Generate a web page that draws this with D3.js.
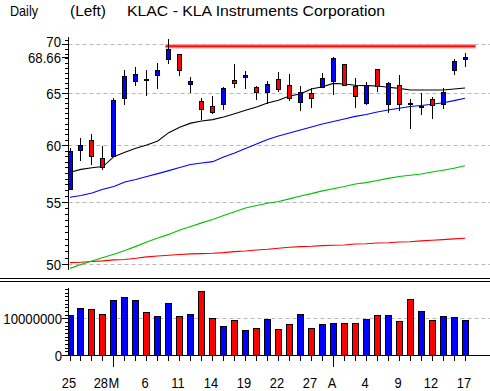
<!DOCTYPE html>
<html><head><meta charset="utf-8">
<script src="https://cdn.jsdelivr.net/npm/d3@7/dist/d3.min.js"></script>
<style>
body{margin:0;background:#fff}
svg{display:block}
text{font-family:"Liberation Sans",Arial,sans-serif;fill:#000}
</style></head><body>
<svg id="c" width="490" height="391"></svg>
<script>
// ---- data ----
const dates = ["02/25","02/26","02/27","02/28","03/01","03/04","03/05","03/06","03/07","03/08",
  "03/11","03/12","03/13","03/14","03/15","03/18","03/19","03/20","03/21","03/22",
  "03/25","03/26","03/27","03/28","04/01","04/02","04/03","04/04","04/05","04/08",
  "04/09","04/10","04/11","04/12","04/15","04/16","04/17"];
const openP  = [56.13,59.58,60.45,58.80,58.98,64.45,66.15,66.40,66.76,68.41,68.94,65.90,64.16,63.67,63.87,66.27,66.56,65.55,65.04,66.38,65.75,64.06,64.95,65.55,66.15,67.90,65.68,64.02,67.41,63.87,65.75,64.02,63.68,64.35,63.87,67.27,68.41];
const highP  = [59.71,60.63,61.03,59.92,64.48,67.33,67.58,67.33,68.05,70.57,68.94,66.59,64.48,64.68,65.60,67.92,67.20,65.71,66.15,67.09,66.87,65.71,65.44,67.00,68.62,67.95,66.49,66.08,67.45,66.08,66.79,64.39,64.95,64.55,65.44,68.45,69.08];
const lowP   = [56.13,58.59,58.21,57.78,58.89,63.83,65.71,64.71,65.41,67.90,66.72,64.95,62.32,62.95,63.34,65.51,65.41,64.26,63.87,65.11,64.22,63.24,63.48,65.44,64.78,65.68,63.53,63.83,65.11,63.05,63.24,61.50,62.83,62.42,63.38,66.76,67.58];
const closeP = [59.44,59.98,58.98,58.03,64.26,66.66,66.87,66.30,67.30,69.47,67.27,66.18,63.38,63.15,65.44,65.94,66.76,65.04,65.90,65.35,64.45,65.11,64.45,66.45,68.55,65.75,64.65,65.78,65.68,65.94,63.87,63.96,63.72,63.76,65.11,68.20,68.66];
const volume = [10.9,12.7,12.45,11.1,14.9,15.7,14.9,11.6,10.5,14.1,10.5,11.1,17.4,10.0,7.8,9.45,6.7,7.3,9.7,7.0,8.4,11.1,7.3,8.4,8.65,8.65,8.65,9.7,10.8,10.8,9.2,15.2,11.9,9.45,10.5,10.3,9.45].map(v=>v*1e6);
const maBlack = [57.56,57.81,57.96,58.06,58.95,59.35,59.71,60.01,60.38,61.15,61.66,62.05,62.25,62.38,62.64,62.95,63.28,63.60,63.99,64.26,64.68,64.88,65.37,65.60,65.94,65.87,65.75,65.71,65.68,65.55,65.44,65.27,65.27,65.27,65.27,65.37,65.48];
const maBlue  = [55.40,55.55,55.76,56.08,56.32,56.71,56.93,57.18,57.44,57.70,57.98,58.25,58.38,58.50,58.92,59.28,59.69,60.10,60.51,60.84,61.12,61.40,61.68,61.97,62.21,62.45,62.69,62.88,63.12,63.31,63.48,63.65,63.75,63.87,64.02,64.22,64.45];
const maGreen = [49.69,49.99,50.26,50.53,50.78,51.07,51.39,51.74,52.06,52.34,52.70,52.98,53.27,53.55,53.88,54.19,54.50,54.71,54.89,55.04,55.26,55.51,55.71,55.94,56.13,56.32,56.54,56.65,56.84,57.02,57.18,57.30,57.41,57.58,57.73,57.91,58.14];
const maRed   = [50.13,50.16,50.22,50.26,50.34,50.37,50.46,50.57,50.64,50.70,50.76,50.80,50.82,50.85,50.90,50.98,51.03,51.11,51.16,51.24,51.32,51.37,51.40,51.45,51.48,51.50,51.58,51.60,51.66,51.68,51.74,51.76,51.82,51.87,51.92,51.98,52.03];
const resistanceLevel = 69.8;
const resistanceStart = 9;
const priceTicks = [50,55,60,65,70];
const volTicks = [0,10000000];
const xLabelIdx = [0,3,4,7,10,13,16,19,22,24,27,30,33,36];
const xLabels   = ["25","28","M","6","11","14","19","22","27","A","4","9","12","17"];
const monthStartIdx = [4,24];
const titleParts = ["Daily","(Left)","KLAC - KLA Instruments Corporation"];

// ---- layout ----
const svg = d3.select("#c");
const n = closeP.length;
const axisX = 68.5, rightX = 490;
const x = d3.scaleLinear().domain([0,n-1]).range([70,465]);
const cx = i => Math.floor(x(i)) + 0.5;
const y = d3.scaleLog().domain([50,70]).range([264.3,44.3]);
const py = v => Math.round(y(v));
const yv = d3.scaleLinear().domain([0,10000000]).range([355,318.3]);

// condensed text helper
function ctext(g, tx, ty, str, anchor, sx, fs){
  return g.append("text").attr("transform",`translate(${tx},${ty}) scale(${sx},1)`)
    .attr("text-anchor",anchor).attr("font-size",fs||15).text(str);
}

svg.append("rect").attr("width",490).attr("height",391).attr("fill","#fff");

// title
const tx = [10,70,127], tw=[28,36,258];
titleParts.forEach((t,k)=>svg.append("text").attr("x",tx[k]).attr("y",15.5)
  .attr("font-size",15).attr("textLength",tw[k]).attr("lengthAdjust","spacingAndGlyphs").text(t));

// clip
svg.append("clipPath").attr("id","mainclip").append("rect")
  .attr("x",axisX+0.5).attr("y",34).attr("width",rightX-axisX).attr("height",235.5);
svg.append("clipPath").attr("id","volclip").append("rect")
  .attr("x",axisX+0.5).attr("y",284).attr("width",rightX-axisX).attr("height",71);

// grid lines main
const gMain = svg.append("g");
gMain.selectAll("line.grid").data(priceTicks).join("line")
  .attr("x1",axisX).attr("x2",rightX).attr("y1",d=>py(d)+0.5).attr("y2",d=>py(d)+0.5)
  .attr("stroke","#b8b8b8").attr("stroke-dasharray","4,3");

// MA lines
const plot = svg.append("g").attr("clip-path","url(#mainclip)");
const line = d3.line().x((d,i)=>x(i)).y(d=>y(d));
[[maRed,"#ff0000"],[maGreen,"#00c000"],[maBlue,"#0000ff"],[maBlack,"#000000"]].forEach(([arr,c])=>{
  plot.append("path").datum(arr).attr("d",line).attr("fill","none").attr("stroke",c).attr("stroke-width",1.1);
});

// resistance line
const rl = plot.append("g");
rl.append("line").attr("x1",cx(resistanceStart)-3).attr("x2",cx(n-1)+10)
  .attr("y1",y(resistanceLevel)).attr("y2",y(resistanceLevel))
  .attr("stroke","#ff9090").attr("stroke-width",4.5).attr("opacity",0.8);
rl.append("line").attr("x1",cx(resistanceStart)-3).attr("x2",cx(n-1)+10)
  .attr("y1",y(resistanceLevel)).attr("y2",y(resistanceLevel))
  .attr("stroke","#ff1010").attr("stroke-width",2);

// candles
const idx = d3.range(n);
const cg = plot.append("g").attr("shape-rendering","crispEdges");
cg.selectAll("line.wick").data(idx).join("line")
  .attr("x1",cx).attr("x2",cx).attr("y1",i=>py(highP[i])).attr("y2",i=>py(lowP[i]))
  .attr("stroke","#000").attr("stroke-width",1);
cg.selectAll("rect.body").data(idx).join("rect")
  .attr("x",i=>cx(i)-2).attr("width",4)
  .attr("y",i=>py(Math.max(openP[i],closeP[i]))+0.5)
  .attr("height",i=>Math.max(1,py(Math.min(openP[i],closeP[i]))-py(Math.max(openP[i],closeP[i]))))
  .attr("fill",i=>closeP[i]>=openP[i]?"#0000ff":"#ff0000")
  .attr("stroke","#000").attr("stroke-width",1);

// main y axis
const ax = svg.append("g").attr("shape-rendering","crispEdges");
ax.append("line").attr("x1",axisX).attr("x2",axisX).attr("y1",37).attr("y2",269.5).attr("stroke","#000");
const minor = d3.range(50,70.51,0.5).filter(v=>v%5!==0);
ax.selectAll("line.mn").data(minor).join("line")
  .attr("x1",65).attr("x2",axisX).attr("y1",d=>py(d)+0.5).attr("y2",d=>py(d)+0.5).attr("stroke","#000");
ax.selectAll("line.mj").data(priceTicks.concat([closeP[n-1]])).join("line")
  .attr("x1",62).attr("x2",axisX).attr("y1",d=>py(d)+0.5).attr("y2",d=>py(d)+0.5).attr("stroke","#000");
const yl = svg.append("g");
priceTicks.forEach(v=>{
  const shift = (v===70) ? -3 : 0; // keep clear of last-close label
  ctext(yl, 61, py(v)+5.5+shift, String(v), "end", 0.88);
});
ctext(yl, 61, py(closeP[n-1])+5.5, closeP[n-1].toFixed(2), "end", 0.88);

// separator double line
svg.append("g").attr("shape-rendering","crispEdges").selectAll("line").data([278.5,281.5]).join("line")
  .attr("x1",0).attr("x2",490).attr("y1",d=>d).attr("y2",d=>d).attr("stroke","#000");

// volume panel
svg.append("line").attr("x1",axisX).attr("x2",rightX).attr("y1",Math.round(yv(10000000))+0.5).attr("y2",Math.round(yv(10000000))+0.5)
  .attr("stroke","#b8b8b8").attr("stroke-dasharray","4,3");
const vg = svg.append("g").attr("clip-path","url(#volclip)").attr("shape-rendering","crispEdges");
vg.selectAll("rect").data(idx).join("rect")
  .attr("x",i=>cx(i)-3).attr("width",6)
  .attr("y",i=>Math.round(yv(volume[i]))+0.5).attr("height",i=>Math.round(yv(0))-Math.round(yv(volume[i])))
  .attr("fill",i=>closeP[i]>=openP[i]?"#0000ff":"#ff0000").attr("stroke","#000");
const va = svg.append("g").attr("shape-rendering","crispEdges");
va.append("line").attr("x1",axisX).attr("x2",axisX).attr("y1",288).attr("y2",355.5).attr("stroke","#000");
va.append("line").attr("x1",axisX).attr("x2",rightX).attr("y1",355.5).attr("y2",355.5).attr("stroke","#000");
const vmin = d3.range(1e6,18.5e6,1e6).filter(v=>v!==1e7);
va.selectAll("line.vm").data(vmin).join("line")
  .attr("x1",65).attr("x2",axisX).attr("y1",d=>Math.round(yv(d))+0.5).attr("y2",d=>Math.round(yv(d))+0.5).attr("stroke","#000");
va.selectAll("line.vj").data(volTicks).join("line")
  .attr("x1",62).attr("x2",axisX).attr("y1",d=>Math.round(yv(d))+0.5).attr("y2",d=>Math.round(yv(d))+0.5).attr("stroke","#000");
const vl = svg.append("g");
volTicks.forEach(v=>ctext(vl, 62, Math.round(yv(v))+5.5, String(v), "end", 0.88));

// x ticks
va.selectAll("line.xt").data(idx).join("line")
  .attr("x1",cx).attr("x2",cx).attr("y1",355.5)
  .attr("y2",i=>monthStartIdx.includes(i)?367:360.5).attr("stroke","#000");
const xl = svg.append("g");
xLabelIdx.forEach((d,k)=>{
  const nextIsMonth = monthStartIdx.includes(xLabelIdx[k+1]) && xLabelIdx[k+1]-d===1;
  if(nextIsMonth){
    ctext(xl, cx(xLabelIdx[k+1])-5.5, 387.5, xLabels[k], "end", 0.86);
  } else if(monthStartIdx.includes(d) && xLabelIdx[k-1]===d-1){
    ctext(xl, cx(d)-5, 387.5, xLabels[k], "start", 0.86);
  } else {
    ctext(xl, cx(d)-1.5, 387.5, xLabels[k], "middle", 0.86);
  }
});
</script></body></html>
